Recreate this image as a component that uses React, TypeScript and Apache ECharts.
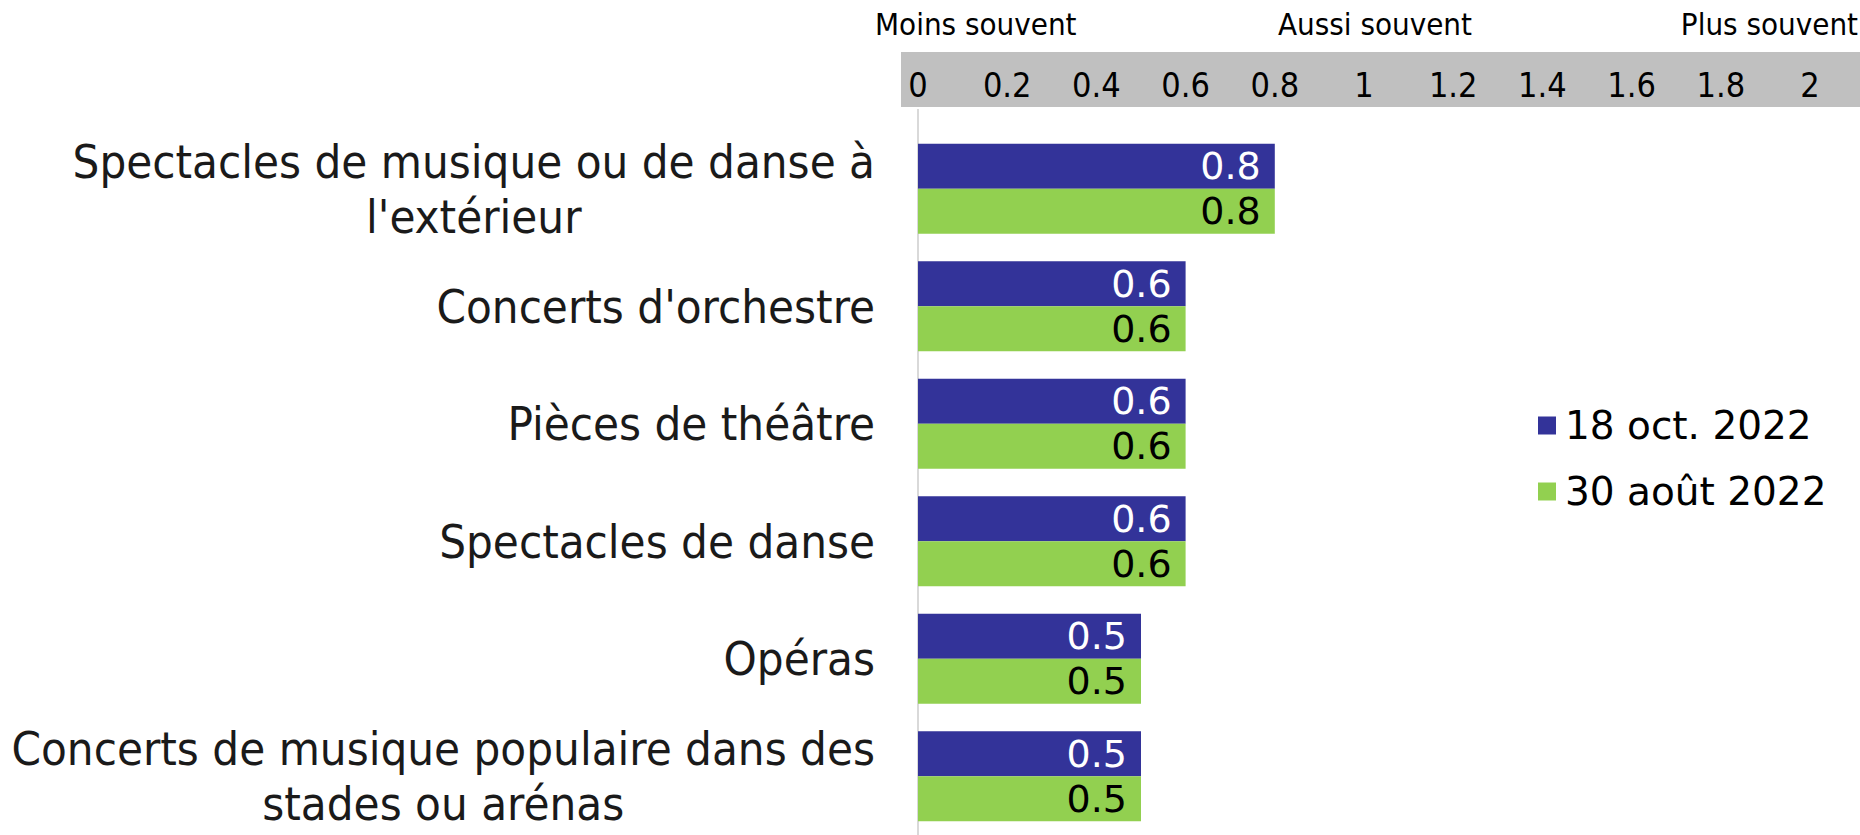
import React, { useEffect, useRef } from "react";
import * as echarts from "echarts";

const categories = [
  "Spectacles de musique ou de danse à\nl'extérieur",
  "Concerts d'orchestre",
  "Pièces de théâtre",
  "Spectacles de danse",
  "Opéras",
  "Concerts de musique populaire dans des\nstades ou arénas",
];
const seriesNames = ["18 oct. 2022", "30 août 2022"];
const octValues = [0.8, 0.6, 0.6, 0.6, 0.5, 0.5];
const aoutValues = [0.8, 0.6, 0.6, 0.6, 0.5, 0.5];
const scaleLabels = ["Moins souvent", "Aussi souvent", "Plus souvent"];

const COND = "'DejaVu Sans Condensed', 'DejaVu Sans', sans-serif";
const WIDE = "'DejaVu Sans', sans-serif";

export default function App() {
  const ref = useRef<HTMLDivElement>(null);
  useEffect(() => {
    if (!ref.current) return;
    const chart = echarts.init(ref.current, undefined, { renderer: "svg" });
    chart.setOption({
      animation: false,
      backgroundColor: "#ffffff",
      grid: { left: 918, width: 892, top: 130, height: 710, containLabel: false },
      xAxis: {
        type: "value",
        position: "top",
        min: 0,
        max: 2,
        interval: 0.2,
        axisLine: { show: false },
        axisTick: { show: false },
        splitLine: { show: false },
        axisLabel: {
          margin: 28,
          fontFamily: COND,
          fontSize: 34,
          color: "#000",
          formatter: (v: number) => String(Math.round(v * 10) / 10),
        },
      },
      yAxis: {
        type: "category",
        data: categories,
        inverse: true,
        axisLine: { show: false },
        axisTick: { show: false },
        axisLabel: {
          margin: 43,
          align: "right",
          color: "#1a1a1a",
          fontFamily: COND,
          fontSize: 47,
          lineHeight: 55,
          formatter: (v: string) =>
            v
              .split("\n")
              .map((l) => "{c|" + l + "}")
              .join("\n"),
          rich: {
            c: {
              align: "center",
              fontFamily: COND,
              fontSize: 47,
              lineHeight: 55,
              color: "#1a1a1a",
            },
          },
        },
      },
      legend: {
        orient: "vertical",
        left: 1533,
        top: 401,
        itemWidth: 18,
        itemHeight: 18,
        itemGap: 27,
        icon: "rect",
        textStyle: {
          fontFamily: WIDE,
          fontSize: 39,
          color: "#000",
          padding: [0, 0, 0, 4],
        },
        data: seriesNames,
      },
      series: [
        {
          name: seriesNames[0],
          type: "bar",
          data: octValues,
          barWidth: 45,
          barGap: "0%",
          itemStyle: { color: "#333399" },
          label: {
            show: true,
            position: "insideRight",
            distance: 14,
            color: "#ffffff",
            fontFamily: WIDE,
            fontSize: 38,
            formatter: (p: any) => p.value.toFixed(1),
          },
        },
        {
          name: seriesNames[1],
          type: "bar",
          data: aoutValues,
          barWidth: 45,
          barGap: "0%",
          itemStyle: { color: "#92d050" },
          label: {
            show: true,
            position: "insideRight",
            distance: 14,
            color: "#000000",
            fontFamily: WIDE,
            fontSize: 38,
            formatter: (p: any) => p.value.toFixed(1),
          },
        },
      ],
      graphic: [
        {
          type: "rect",
          z: -10,
          shape: { x: 901, y: 52, width: 959, height: 55 },
          style: { fill: "#c0c0c0" },
          silent: true,
        },
        {
          type: "line",
          shape: { x1: 918, y1: 109, x2: 918, y2: 835 },
          style: { stroke: "#d9d9d9", lineWidth: 2 },
          silent: true,
        },
        {
          type: "text",
          x: 875,
          y: 24,
          style: {
            text: scaleLabels[0],
            fontFamily: COND,
            fontSize: 31,
            fill: "#000",
            align: "left",
            verticalAlign: "middle",
          },
        },
        {
          type: "text",
          x: 1375,
          y: 24,
          style: {
            text: scaleLabels[1],
            fontFamily: COND,
            fontSize: 31,
            fill: "#000",
            align: "center",
            verticalAlign: "middle",
          },
        },
        {
          type: "text",
          x: 1858,
          y: 24,
          style: {
            text: scaleLabels[2],
            fontFamily: COND,
            fontSize: 31,
            fill: "#000",
            align: "right",
            verticalAlign: "middle",
          },
        },
      ],
    });
    return () => chart.dispose();
  }, []);
  return (
    <div
      ref={ref}
      style={{ position: "fixed", left: 0, top: 0, width: 1860, height: 835 }}
    />
  );
}
